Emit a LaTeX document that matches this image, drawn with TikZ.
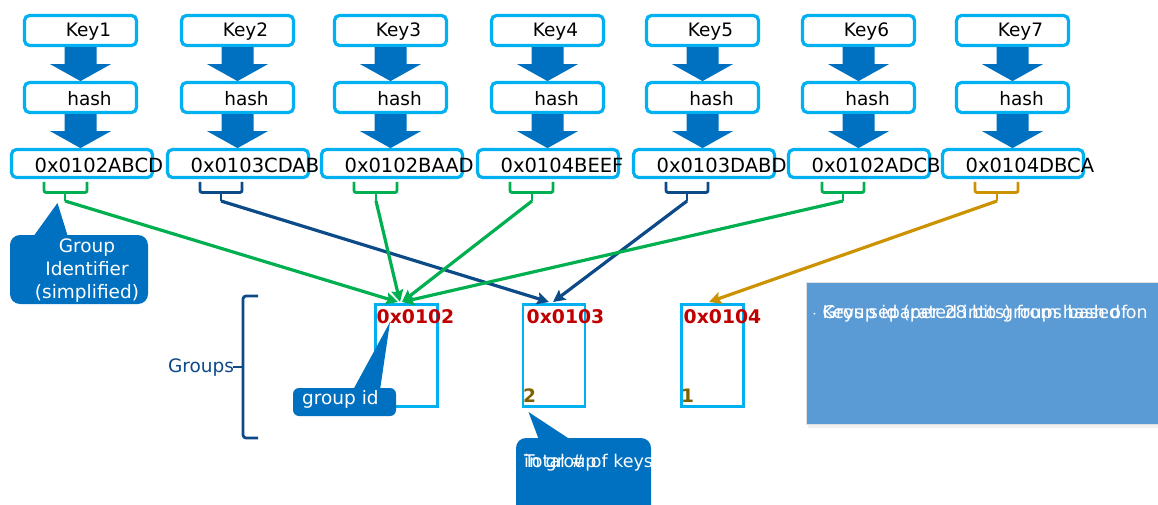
\documentclass[tikz,border=0pt]{standalone}
\usepackage{fontspec}
\setmainfont{DejaVu Sans}
\usetikzlibrary{arrows.meta,shadows,calc}
\definecolor{cyanB}{HTML}{00B0F0}
\definecolor{blueF}{HTML}{0070C0}
\definecolor{grn}{HTML}{00B050}
\definecolor{navy}{HTML}{0D4A88}
\definecolor{gold}{HTML}{CC9200}
\definecolor{redT}{HTML}{C00000}
\definecolor{olive}{HTML}{7F6000}
\definecolor{boxB}{HTML}{5B9BD5}
\tikzset{
  kbox/.style={draw=cyanB, line width=3.2pt, rounded corners=5pt, minimum width=112pt, minimum height=30pt, inner sep=0pt},
  xbox/.style={draw=cyanB, line width=3.2pt, rounded corners=5pt, minimum width=141pt, minimum height=28pt, inner sep=0pt},
  gbox/.style={draw=cyanB, line width=2.8pt, minimum width=62pt, minimum height=102pt, inner sep=0pt},
  ktxt/.style={inner sep=0pt, font=\fontsize{18.5}{22}\selectfont},
  xtxt/.style={inner sep=0pt, anchor=west, font=\fontsize{19.5}{22}\selectfont},
  brk/.style={line width=2.8pt, rounded corners=2pt},
  conn/.style={line width=3.2pt, -{Stealth[length=12pt,width=12pt,inset=2pt]}},
  gid/.style={inner sep=0pt, anchor=west, text=redT, font=\bfseries\fontsize{18.8}{22}\selectfont},
  gcount/.style={inner sep=0pt, anchor=west, text=olive, font=\bfseries\fontsize{18.5}{22}\selectfont},
  ctxt/.style={inner sep=0pt, text=white, font=\fontsize{18.5}{23}\selectfont},
  bigarrow/.style={fill=blueF}
}
\begin{document}
\begin{tikzpicture}[x=1pt,y=-1pt]
\useasboundingbox (0,0) rectangle (1158,505);
% key / hash / hex columns
\foreach \i/\kx/\hx/\hex in {1/80.5/82/0x0102ABCD, 2/237.5/238/0x0103CDAB, 3/390.5/392/0x0102BAAD, 4/547.5/548/0x0104BEEF, 5/702.5/704/0x0103DABD, 6/858.5/859/0x0102ADCB, 7/1012.5/1013/0x0104DBCA}{
  \node[kbox] (k\i) at (\kx,30.5) {};
  \node[ktxt] (kt\i) at ($(k\i.center)+(8,1)$) {Key\i};
  \node[kbox] (h\i) at (\kx,97.5) {};
  \node[ktxt] (ht\i) at ($(h\i.center)+(9,1)$) {hash};
  \node[xbox] (x\i) at (\hx,163.5) {};
  \node[xtxt] (xt\i) at ($(x\i.west)+(24.5,1.5)$) {\hex};
  \fill[bigarrow] (k\i.south) ++(-16,0) -- ++(32,0) -- ++(0,17) -- ++(14.5,0) -- ++(-30.5,17) -- ++(-30.5,-17) -- ++(14.5,0) -- cycle;
  \fill[bigarrow] (h\i.south) ++(-16,0) -- ++(32,0) -- ++(0,17) -- ++(14.5,0) -- ++(-30.5,17) -- ++(-30.5,-17) -- ++(14.5,0) -- cycle;
}
% group boxes
\node[gbox] (g1) at (406.5,355.5) {};
\node[gbox] (g2) at (554,355.5) {};
\node[gbox] (g3) at (712.5,355.5) {};
\node[gid] (gl1) at (376.5,316.5) {0x0102};
\node[gid] (gl2) at (526.5,316.5) {0x0103};
\node[gid] (gl3) at (683.5,316.5) {0x0104};
\node[gcount] (gc2) at (523,395.5) {2};
\node[gcount] (gc3) at (681,395.5) {1};
% arrow targets
\coordinate (t1a) at (398,302);
\coordinate (t1b) at (400,302);
\coordinate (t1c) at (402,302);
\coordinate (t2a) at (549,302);
\coordinate (t2b) at (553,302);
\coordinate (t3) at (709,302);
% brackets with stems
\foreach \c/\a/\m/\b/\col in {1/44/65/87/grn, 2/200/221/242/navy, 3/354/376/397/grn, 4/510/532/553/grn, 5/666/687/708/navy, 6/822/843/864/grn, 7/975/997/1018/gold}{
  \draw[brk, \col] (\a,182) -- (\a,192.5) -- (\b,192.5) -- (\b,182);
  \coordinate (s\c) at (\m,201);
  \draw[line width=2.8pt, \col] (\m,192.5) -- (s\c);
}
\draw[conn, grn] (s1) -- (t1a);
\draw[conn, navy] (s2) -- (t2a);
\draw[conn, grn] (s3) -- (t1b);
\draw[conn, grn] (s4) -- (t1c);
\draw[conn, navy] (s5) -- (t2b);
\draw[conn, grn] (s6) -- (t1c);
\draw[conn, gold] (s7) -- (t3);
% Groups brace
\draw[navy, line width=2.8pt, rounded corners=3pt] (258,296) -- (243,296) -- (243,438) -- (258,438);
\draw[navy, line width=2.8pt] (243,367) -- (233,367);
\node[inner sep=0pt, text=navy, font=\fontsize{18.5}{22}\selectfont] (grp) at (201,368) {Groups};
% callout: group identifier
\node[fill=blueF, rounded corners=10pt, minimum width=138pt, minimum height=69pt, inner sep=0pt] (cg) at (79,269.5) {};
\fill[blueF] (33,237) -- (57.5,203) -- (68,237) -- cycle;
\node[ctxt, align=center] (cgt) at (87,271) {Group\\Identifier\\(simplified)};
% callout: group id
\node[fill=blueF, rounded corners=6pt, minimum width=103pt, minimum height=28pt, inner sep=0pt] (cid) at (344.5,402) {};
\fill[blueF] (353,390) -- (390,322) -- (380,390) -- cycle;
\node[ctxt, anchor=west] (cidt) at (302,399.5) {group id};
% callout: total keys
\node[fill=blueF, rounded corners=10pt, minimum width=135pt, minimum height=90pt, inner sep=0pt] (ck) at (583.5,483) {};
\fill[blueF] (539,440) -- (528.5,412) -- (571,440) -- cycle;
\begin{scope}
\clip (516,438) rectangle (651,505);
\node[ctxt, anchor=west, font=\fontsize{17.5}{20}\selectfont] (ckt1) at (524,463) {Total \# of keys};
\node[ctxt, anchor=west, font=\fontsize{17.5}{20}\selectfont] (ckt2) at (524,463) {in group};
\end{scope}
% right info box
\node[fill=boxB, draw=black!12, line width=0.8pt, drop shadow={opacity=0.12, shadow xshift=2pt, shadow yshift=-4pt}, minimum width=353pt, minimum height=142pt, inner sep=0pt] (info) at (982.5,353) {};
\node[inner sep=0pt, anchor=west, text=white, font=\fontsize{17.5}{20}\selectfont] (it1) at (812,314) {$\cdot$\ Keys separated into groups based on};
\node[inner sep=0pt, anchor=west, text=white, font=\fontsize{17.5}{20}\selectfont] (it2) at (812,314) {\phantom{$\cdot$}\ Group id (per 28 bits) from hash of};
\end{tikzpicture}
\end{document}
